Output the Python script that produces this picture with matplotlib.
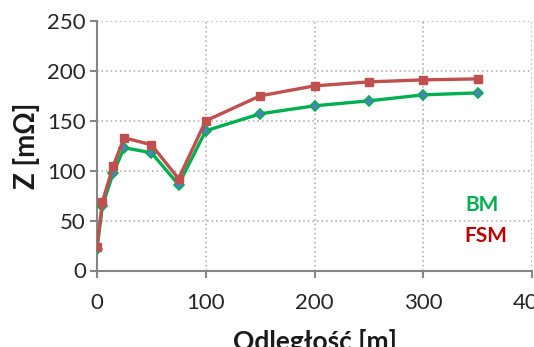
import matplotlib
matplotlib.use("Agg")
import matplotlib.pyplot as plt

# Distance from the source [m] and measured loop impedance [mOhm]
distance = [0, 5, 15, 25, 50, 75, 100, 150, 200, 250, 300, 350]
z_bm = [22, 65, 98, 123, 118, 86, 140, 157, 165, 170, 176, 178]
z_fsm = [24, 69, 105, 133, 126, 92, 150, 175, 185, 189, 191, 192]

x_ticks = [0, 100, 200, 300, 400]
y_ticks = [0, 50, 100, 150, 200, 250]

plt.rcParams['font.family'] = ['Lato', 'DejaVu Sans']

fig = plt.figure(figsize=(5.34, 3.47), dpi=100)
ax = fig.add_axes([97 / 534, (347 - 270.5) / 347, 435 / 534, 249.5 / 347])

green = '#00B050'
red = '#C0504D'

ax.plot(distance, z_bm, color=green, lw=2.4, marker='D', markersize=5.5,
        markerfacecolor='#4F81BD', markeredgecolor=green, markeredgewidth=1.2,
        zorder=3)
ax.plot(distance, z_fsm, color=red, lw=2.4, marker='s', markersize=6,
        markerfacecolor=red, markeredgecolor=red, zorder=4)

ax.set_xlim(0, 400)
ax.set_ylim(0, 250)
ax.set_xticks(x_ticks)
ax.set_yticks(y_ticks)

ax.grid(True, color='#A6A6A6', linestyle=(0, (1, 2)), linewidth=1.1)
ax.set_axisbelow(True)

for side in ('top', 'right'):
    ax.spines[side].set_visible(False)
for side in ('left', 'bottom'):
    ax.spines[side].set_color('#868686')
    ax.spines[side].set_linewidth(1.5)

ax.tick_params(axis='both', colors='#868686', labelcolor='#262626',
               labelsize=16, length=5, width=1.5, direction='out')
ax.tick_params(axis='x', pad=11)
ax.tick_params(axis='y', pad=3)

ax.set_ylabel('Z [mΩ]', fontsize=20, fontweight='bold', color='#1a1a1a',
              labelpad=5)
ax.set_xlabel('Odległość [m]', fontsize=19, fontweight='bold', color='#1a1a1a',
              labelpad=12)

fig.text(465 / 534, 1 - 205 / 347, 'BM', color=green, fontsize=15,
         fontweight='bold', va='center', ha='left')
fig.text(464 / 534, 1 - 236 / 347, 'FSM', color='#C00000', fontsize=15,
         fontweight='bold', va='center', ha='left')

fig.savefig('out.png', dpi=100)
